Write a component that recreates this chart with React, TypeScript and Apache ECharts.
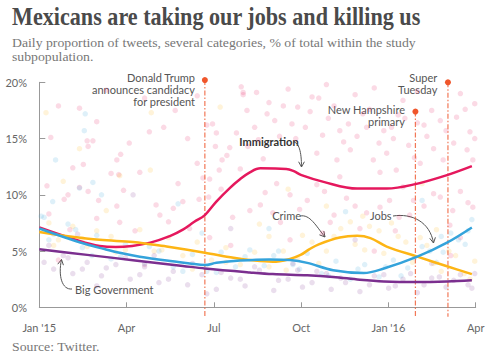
import React, { useEffect, useRef } from 'react';
import * as echarts from 'echarts';

// ---- Data (days since 1 Jan 2015, percent) ----
const xTickLabels = ["Jan '15", 'Apr', 'Jul', 'Oct', "Jan '16", 'Apr'];
const seriesNames = ['Immigration', 'Crime', 'Jobs', 'Big Government'];

const immigrationLine = [[0,7.1],[42,5.9],[63,5.45],[80,5.35],[97,5.45],[116,5.75],[137,6.35],[150,6.9],[162,7.6],[173,8.2],[185,9.4],[199,10.6],[210,11.4],[220,12.0],[231,12.35],[258,12.3],[266,12.1],[274,11.75],[297,11.15],[332,10.55],[363,10.55],[393,10.95],[426,11.75],[452,12.55]];
const crimeLine = [[0,6.7],[32,6.3],[63,6.0],[98,5.8],[116,5.6],[133,5.4],[173,4.85],[203,4.4],[225,4.15],[244,4.05],[262,4.3],[273,4.65],[282,5.15],[292,5.6],[314,6.2],[332,6.35],[346,6.15],[363,5.4],[395,4.5],[426,3.65],[452,2.95]];
const jobsLine = [[0,7.0],[27,6.2],[49,5.6],[67,5.2],[84,4.85],[105,4.5],[133,4.15],[157,3.9],[173,3.75],[185,3.95],[210,4.15],[240,4.25],[262,4.2],[280,3.95],[307,3.3],[339,3.05],[360,3.45],[395,4.5],[426,5.75],[452,7.1]];
const bigGovLine = [[0,5.15],[50,4.66],[100,4.17],[150,3.68],[173,3.45],[220,3.1],[244,2.95],[280,2.85],[307,2.7],[335,2.45],[360,2.3],[395,2.25],[426,2.3],[452,2.4]];

const immigrationDots = [[42,17.7],[12,15.1],[50,14.8],[56,14.8],[51,14.3],[46,12.7],[81,13.1],[85,13.6],[94,14.6],[142,17.5],[83,11.8],[88,10.4],[42,10.65],[51,10.3],[62,9.5],[26,9.6],[30,10.0],[122,9.1],[81,9.0],[150,9.4],[171,11.5],[175,16.2],[181,16.3],[185,15.5],[184,14.3],[191,13.1],[196,13.5],[199,14.2],[206,15.5],[211,19.6],[213,18.9],[210,12.3],[178,11.4],[177,9.8],[167,9.6],
[213,19.1],[227,19.1],[285,18.7],[292,18.6],[217,17.5],[283,17.4],[246,16.6],[264,16.3],[302,16.8],[323,16.3],[314,15.7],[342,16.0],[360,15.7],[368,16.0],[410,17.5],[419,16.6],[436,16.9],[450,15.6],[433,14.6],[405,15.2],[386,14.4],[363,13.7],[349,13.1],[325,14.0],[311,13.1],[290,13.7],[234,13.2],[229,14.9],[218,14.3],[251,15.2],[447,14.0],[453,13.1],[422,13.1],[398,12.8],[373,12.2],[356,12.0],[314,11.6],[290,10.9],[248,11.0],[231,9.1],[280,9.5],[321,9.7],[356,8.9],[391,9.5],[419,9.8],[440,10.3],[453,8.9],[380,10.7],
[304,7.55],[335,7.0],[387,8.2],[429,7.3],[252,7.55],[220,8.6],[126,8.2],[84,7.55],[32,6.9],[157,7.0],[10,8.3],[60,7.9],[100,6.8],[140,8.8],[20,4.2],[110,3.8],[200,5.5],[350,5.0],[430,4.6],
[240,18.2],[260,19.4],[300,19.8],[330,18.9],[350,19.5],[380,18.4],[395,19.2],[440,19.0],[455,18.1],[270,17.8],[345,17.6],[375,17.1],[395,16.4],[70,19.3],[110,18.6],[20,17.9],[60,16.5],[130,16.0],[155,15.0],[115,15.6],[165,18.8],
[225,16.0],[238,17.2],[255,17.9],[268,15.0],[278,16.0],[296,15.3],[308,17.9],[318,14.7],[332,15.2],[338,17.2],[355,14.6],[370,15.0],[382,16.8],[392,13.3],[402,16.2],[412,14.1],[425,15.7],[445,17.6],[455,15.0],[236,10.2],[244,8.4],[262,10.0],[272,8.7],[298,10.3],[308,8.2],[330,9.0],[342,8.4],[366,9.5],[376,8.0],[402,9.0],[412,10.1],[432,8.6],[448,9.3],[262,6.0],[296,6.6],[372,6.8],[440,6.2],[190,10.5],[202,8.0],[188,12.2],[165,12.8],[145,11.0],[105,12.0],[75,11.9],[35,12.4],[8,10.8],[135,7.6],[178,6.2]];
const crimeDots = [[10,7.5],[20,6.0],[35,7.2],[50,5.4],[60,6.8],[75,6.3],[90,5.1],[105,6.9],[120,5.0],[135,6.2],[150,4.6],[165,5.8],[180,4.2],[195,5.3],[210,3.8],[225,4.9],[240,3.6],[255,5.0],[270,4.3],[285,5.8],[300,5.0],[315,7.0],[330,5.6],[345,7.2],[360,4.8],[375,6.3],[390,4.0],[405,5.5],[420,3.2],[435,4.6],[450,2.5],
[7,17.3],[42,14.1],[25,11.2],[117,17.3],[189,17.8],[116,12.2],[84,11.7],[300,9.0],[400,11.0],[260,10.5],[338,8.1],[230,7.4],[70,8.6],[160,3.4],[415,6.9],
[240,6.3],[258,3.3],[275,6.4],[292,3.9],[308,6.3],[325,7.6],[340,5.1],[355,6.8],[368,7.5],[383,5.8],[398,6.2],[412,3.9],[428,5.0],[444,3.0],[455,4.1],[15,5.5],[45,6.1],[80,4.9],[128,5.1],[195,4.0]];
const jobsDots = [[48,17.2],[47,15.7],[17,13.1],[56,11.1],[42,10.6],[14,9.4],[65,10.0],[145,9.2],[2,8.1],
[5,8.0],[15,6.5],[30,7.4],[45,5.3],[60,6.4],[75,4.3],[90,5.6],[110,3.9],[125,5.0],[140,3.6],[160,4.7],[175,3.2],[190,4.9],[205,3.6],[220,5.1],[235,3.7],[250,5.0],[265,3.8],[280,4.8],[295,3.0],[310,4.1],[325,2.5],[340,3.8],[355,2.7],[370,4.2],[385,3.5],[400,5.4],[415,4.0],[430,6.6],[445,5.6],[452,7.8],[320,8.5],[400,9.5],[240,7.0],[170,6.6],
[10,6.0],[38,6.9],[55,4.6],[85,4.5],[115,5.4],[150,3.2],[185,3.1],[215,4.5],[245,4.6],[272,3.4],[302,2.8],[333,3.4],[362,3.6],[378,2.8],[392,4.4],[408,5.0],[422,4.9],[438,6.0],[448,6.8],[420,6.3]];
const bigGovDots = [[5,4.0],[15,3.4],[25,4.6],[35,3.0],[50,4.0],[65,2.8],[80,3.8],[95,2.5],[110,3.6],[125,2.2],[140,3.2],[155,2.0],[170,2.9],[185,1.6],[200,2.6],[215,1.9],[230,3.3],[245,1.5],[260,2.5],[275,1.8],[290,3.2],[305,1.6],[320,2.2],[335,1.4],[350,2.8],[365,1.7],[380,2.5],[395,1.3],[410,2.6],[425,1.8],[440,2.9],[452,1.7],
[40,6.5],[98,10.0],[200,7.0],[330,6.0],[60,1.9],[120,4.6],[265,3.9],[410,3.9],[175,1.2],
[10,5.5],[30,4.4],[45,3.4],[70,3.5],[90,4.4],[105,2.9],[135,2.5],[160,3.9],[190,3.1],[210,2.5],[225,3.6],[250,2.4],[270,3.3],[285,2.2],[300,3.0],[315,2.6],[345,2.0],[360,2.9],[372,1.9],[388,3.0],[402,2.0],[418,2.7],[433,2.4],[448,2.0],[455,3.0]];

const eventDays = [173, 393, 427];
const eventTops = [20.2, 17.4, 20.0];
const eventLabels = ['Donald Trump\nannounces candidacy\nfor president', 'New Hampshire\nprimary', 'Super\nTuesday'];

const COLORS = ['#e5185d', '#fdb515', '#34a3db', '#7b2f8f'];

function measure(text: string, font: string) {
  const ctx = document.createElement('canvas').getContext('2d');
  if (!ctx) return 400;
  ctx.font = font;
  return ctx.measureText(text).width;
}

function arrow(path: number[], tip: [number, number], angleDeg: number) {
  const [x1, y1, cpx1, cpy1, cpx2, cpy2] = path;
  const a = (angleDeg * Math.PI) / 180;
  const L = 6;
  const s = 0.5;
  const p1 = [tip[0] - L * Math.cos(a - s), tip[1] - L * Math.sin(a - s)];
  const p2 = [tip[0] - L * Math.cos(a + s), tip[1] - L * Math.sin(a + s)];
  return [
    { type: 'bezierCurve', silent: true, shape: { x1, y1, cpx1, cpy1, cpx2, cpy2, x2: tip[0], y2: tip[1] }, style: { stroke: '#555', lineWidth: 1, fill: null } },
    { type: 'polyline', silent: true, shape: { points: [p1, tip, p2] }, style: { stroke: '#555', lineWidth: 1, fill: null } },
  ];
}

export default function App() {
  const ref = useRef<HTMLDivElement>(null);
  useEffect(() => {
    if (!ref.current) return;
    const chart = echarts.init(ref.current, undefined, { renderer: 'svg' });

    const title = 'Mexicans are taking our jobs and killing us';
    const titleFont = 'bold 25px "Liberation Serif"';
    const titleScale = 409 / measure(title, titleFont);
    const sub1 = 'Daily proportion of tweets, several categories, % of total within the study';
    const subFont = '13px "Liberation Serif"';
    const subScale = 404 / measure(sub1, subFont);

    const ann = { fontFamily: 'Lato', fontSize: 11, fill: '#555' };

    const lines = [immigrationLine, crimeLine, jobsLine, bigGovLine];
    const dots = [immigrationDots, crimeDots, jobsDots, bigGovDots];

    const series: any[] = [];
    dots.forEach((d, i) => {
      series.push({
        type: 'scatter', name: seriesNames[i] + ' daily', data: d, symbolSize: 5.5, silent: true,
        itemStyle: { color: COLORS[i], opacity: 0.16 }, z: 1,
      });
    });
    series.push({
      type: 'custom', name: 'events', silent: true, z: 2, clip: false,
      data: eventDays.map((d, i) => [d, eventTops[i]]),
      renderItem: (params: any, api: any) => {
        const top = api.coord([api.value(0), api.value(1)]);
        const base = api.coord([api.value(0), 0]);
        return {
          type: 'group',
          children: [
            { type: 'line', shape: { x1: top[0], y1: top[1], x2: base[0], y2: base[1] + 9.4 }, style: { stroke: '#f0603a', lineWidth: 1.2, lineDash: [5, 2, 1.5, 2], opacity: 0.85 } },
            { type: 'circle', shape: { cx: top[0], cy: top[1], r: 3 }, style: { fill: '#f0562b' } },
          ],
        };
      },
    });
    lines.forEach((d, i) => {
      series.push({
        type: 'line', name: seriesNames[i], data: d, smooth: 0.35, showSymbol: false, silent: true,
        lineStyle: { color: COLORS[i], width: 2.5 }, z: 3,
      });
    });

    chart.setOption({
      animation: false,
      grid: { left: 39.3, right: 14.3, top: 82.3, bottom: 49.7, containLabel: false },
      xAxis: {
        type: 'value', min: 0, max: 456, interval: 91.2, offset: 9.4,
        axisLine: { show: true, lineStyle: { color: '#999', width: 1 } },
        axisTick: { show: true, inside: true, length: 5, lineStyle: { color: '#999' } },
        splitLine: { show: false },
        axisLabel: {
          color: '#666', fontFamily: 'Lato', fontSize: 11, margin: 5, showMaxLabel: true, showMinLabel: true,
          formatter: (v: number) => xTickLabels[Math.round(v / 91.2)] ?? '',
        },
      },
      yAxis: {
        type: 'value', min: 0, max: 20, interval: 5, offset: 7.3,
        axisLine: { show: true, lineStyle: { color: '#999', width: 1 } },
        axisTick: { show: true, inside: true, length: 6, lineStyle: { color: '#999' } },
        splitLine: { show: false },
        axisLabel: { color: '#666', fontFamily: 'Lato', fontSize: 11, margin: 5, formatter: (v: number) => v + '%' },
      },
      series,
      graphic: [
        { type: 'text', x: 12, y: 4, scaleX: titleScale, silent: true, style: { text: title, font: titleFont, fill: '#4a4a4a', textVerticalAlign: 'top' } },
        { type: 'text', x: 12, y: 36, scaleX: subScale, silent: true, style: { text: sub1, font: subFont, fill: '#777', textVerticalAlign: 'top' } },
        { type: 'text', x: 12, y: 50, scaleX: subScale, silent: true, style: { text: 'subpopulation.', font: subFont, fill: '#777', textVerticalAlign: 'top' } },
        { type: 'text', x: 12, y: 340, scaleX: subScale, silent: true, style: { text: 'Source: Twitter.', font: subFont, fill: '#777', textVerticalAlign: 'top' } },
        { type: 'text', x: 195, y: 71.3, silent: true, style: { ...ann, text: eventLabels[0], textAlign: 'right', textVerticalAlign: 'top', lineHeight: 12.2 } },
        { type: 'text', x: 405, y: 103, silent: true, style: { ...ann, text: eventLabels[1], textAlign: 'right', textVerticalAlign: 'top', lineHeight: 12 } },
        { type: 'text', x: 437.3, y: 71.3, silent: true, style: { ...ann, text: eventLabels[2], textAlign: 'right', textVerticalAlign: 'top', lineHeight: 12 } },
        { type: 'text', x: 239.3, y: 141.7, silent: true, style: { ...ann, fill: '#333', fontWeight: 'bold', text: 'Immigration', textVerticalAlign: 'middle' } },
        { type: 'text', x: 272.3, y: 215.7, silent: true, style: { ...ann, text: 'Crime', textVerticalAlign: 'middle' } },
        { type: 'text', x: 370, y: 215.7, silent: true, style: { ...ann, text: 'Jobs', textVerticalAlign: 'middle' } },
        { type: 'text', x: 75, y: 289.3, silent: true, style: { ...ann, text: 'Big Government', textVerticalAlign: 'middle' } },
        ...arrow([293, 142, 299, 142, 301.5, 152], [301.5, 167], 90),
        ...arrow([300, 216, 310, 214, 316, 226], [325, 237], 50),
        ...arrow([393, 216, 412, 213, 430, 222], [433.5, 243], 80),
        ...arrow([72, 289, 62, 290, 58, 276], [61.5, 259.5], -80),
      ],
    });
    return () => chart.dispose();
  }, []);
  return <div ref={ref} style={{ width: 490, height: 357, position: 'absolute', left: 0, top: 0 }} />;
}
